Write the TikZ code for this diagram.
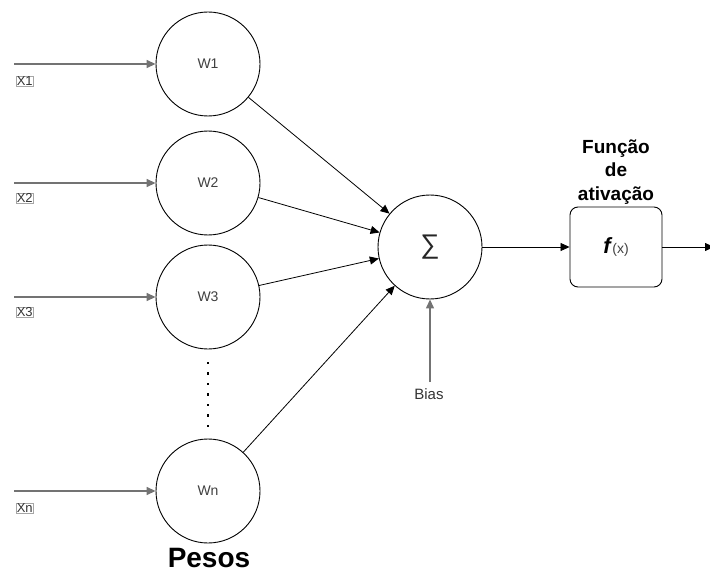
\documentclass[tikz,border=0pt]{standalone}
\usepackage{fontspec}
\setmainfont{Liberation Sans}
\usetikzlibrary{arrows.meta}
\begin{document}
\begin{tikzpicture}[x=1pt,y=-1pt,
  neuron/.style={draw,circle,minimum size=104pt,inner sep=0pt,line width=0.9pt,font=\fontsize{14}{16}\selectfont,text=black!75},
  feed/.style={draw=black!55,line width=1.6pt,-{Triangle[length=9pt,width=8pt]}},
  wire/.style={draw=black,line width=0.8pt,-{Triangle[length=9pt,width=8pt]}},
  inlabel/.style={draw=black!35,line width=0.4pt,inner sep=0.6pt,font=\fontsize{13}{14}\selectfont,text=black!80,anchor=west},
  dotmark/.style={fill=black,inner sep=0pt,minimum size=2.2pt}]
\useasboundingbox (0,0) rectangle (710,575);

% weight neurons
\node[neuron] (w1) at (208,64) {W1};
\node[neuron] (w2) at (208,183) {W2};
\node[neuron] (w3) at (208,297) {W3};
\node[neuron] (wn) at (208,491) {Wn};

% summing junction
\node[neuron,font=\fontsize{27}{28}\selectfont,text=black!85] (sum) at (430,247) {∑};

% activation function
\node[draw,rounded corners=8pt,minimum width=92pt,minimum height=80pt,line width=0.9pt] (act) at (616,247)
  {\fontsize{22}{22}\selectfont\textbf{\textit{f}}\fontsize{14}{16}\selectfont\textcolor{black!75}{(x)}};
\node[font=\bfseries\fontsize{19}{23.5}\selectfont,align=center] (acttitle) at (616,172) {Função\\de\\ativação};

% input sources
\coordinate (s1) at (14,64);
\coordinate (s2) at (14,183);
\coordinate (s3) at (14,297);
\coordinate (sn) at (14,491);
\draw[feed] (s1) -- (w1);
\draw[feed] (s2) -- (w2);
\draw[feed] (s3) -- (w3);
\draw[feed] (sn) -- (wn);
\node[inlabel] (x1) at (16,81) {X1};
\node[inlabel] (x2) at (16,198) {X2};
\node[inlabel] (x3) at (16,312) {X3};
\node[inlabel] (xn) at (16,508) {Xn};

% weighted connections into the sum
\draw[wire] (w1) -- (sum);
\draw[wire] (w2) -- (sum);
\draw[wire] (w3) -- (sum);
\draw[wire] (wn) -- (sum);

% bias
\node[font=\fontsize{15}{16}\selectfont,text=black!80] (bias) at (429,394) {Bias};
\coordinate (b0) at (430,382);
\draw[feed,line width=1.3pt] (b0) -- (sum);

% sum to activation and output
\draw[wire] (sum) -- (act);
\coordinate (out) at (714,247);
\draw[wire] (act) -- (out);

% ellipsis between W3 and Wn
\foreach \k in {0,...,6} \node[dotmark] (d\k) at (208,{363+10.5*\k}) {};

% caption
\node[font=\bfseries\fontsize{28}{29}\selectfont,inner sep=1pt] (pesos) at (209,558) {Pesos};
\end{tikzpicture}
\end{document}
